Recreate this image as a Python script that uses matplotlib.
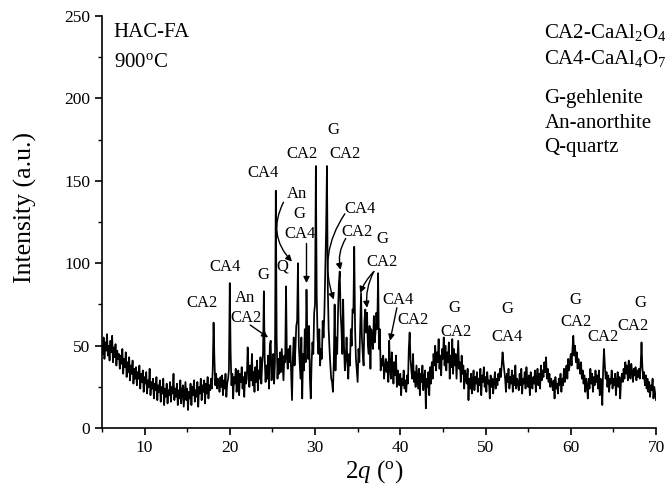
import numpy as np
import matplotlib.pyplot as plt

plt.rcParams['font.family'] = ['Liberation Serif', 'DejaVu Serif']
plt.rcParams['mathtext.fontset'] = 'custom'
plt.rcParams['mathtext.rm'] = 'Liberation Serif'
plt.rcParams['mathtext.it'] = 'Liberation Serif:italic'

# XRD pattern, 2theta from 5 to 70 in 0.1 steps
intensity = [
    50, 45, 55, 42, 52, 47, 57, 44, 50, 41,   # 5
    53, 46, 56, 40, 49, 43, 51, 38, 47, 42,   # 6
    45, 36, 44, 39, 48, 33, 42, 37, 46, 31,   # 7
    40, 34, 43, 29, 38, 33, 41, 27, 36, 30,   # 8
    37, 26, 34, 30, 38, 24, 33, 28, 35, 22,   # 9
    31, 27, 34, 21, 29, 25, 36, 20, 28, 24,   # 10
    30, 18, 27, 23, 31, 17, 26, 22, 29, 16,   # 11
    25, 21, 30, 14, 24, 19, 27, 15, 23, 20,   # 12
    28, 16, 25, 21, 33, 17, 24, 19, 27, 14,   # 13
    23, 18, 29, 15, 22, 26, 13, 21, 28, 17,   # 14
    24, 11, 22, 18, 27, 14, 25, 20, 29, 16,   # 15
    23, 19, 28, 13, 25, 21, 30, 17, 26, 22,   # 16
    29, 15, 27, 21, 31, 18, 26, 23, 30, 24,   # 17
    35, 64, 42, 26, 33, 24, 30, 27, 22, 31,   # 18
    25, 32, 20, 29, 24, 33, 19, 27, 30, 35,   # 19
    88, 46, 26, 33, 18, 31, 27, 36, 22, 30,   # 20
    35, 20, 33, 28, 37, 24, 31, 19, 34, 27,   # 21
    30, 49, 36, 25, 38, 29, 45, 26, 34, 22,   # 22
    37, 28, 41, 23, 35, 30, 43, 27, 39, 45,   # 23
    83, 42, 28, 38, 30, 44, 24, 50, 53, 29,   # 24
    36, 45, 27, 40, 144, 55, 30, 42, 33, 46,  # 25
    34, 48, 38, 29, 44, 40, 86, 43, 36, 48,   # 26
    40, 50, 33, 17, 42, 55, 38, 48, 62, 65,   # 27
    100, 50, 40, 30, 55, 18, 45, 35, 60, 40,  # 28
    84, 55, 42, 62, 30, 18, 40, 52, 45, 70,   # 29
    75, 159, 80, 55, 45, 60, 38, 48, 42, 65,  # 30
    55, 70, 95, 120, 159, 85, 60, 48, 38, 30, # 31
    28, 22, 40, 75, 35, 55, 45, 70, 88, 95,   # 32
    70, 60, 45, 78, 50, 35, 42, 55, 40, 30,   # 33
    45, 38, 60, 50, 72, 70, 110, 60, 42, 35,  # 34
    28, 48, 40, 62, 82, 55, 45, 38, 65, 72,   # 35
    58, 70, 50, 45, 62, 36, 60, 55, 48, 68,   # 36
    52, 58, 70, 60, 94, 48, 60, 35, 42, 38,   # 37
    44, 30, 37, 42, 34, 40, 28, 53, 36, 30,   # 38
    46, 38, 27, 40, 32, 44, 25, 35, 30, 26,   # 39
    33, 20, 30, 26, 35, 24, 29, 22, 32, 27,   # 40
    48, 58, 42, 35, 30, 45, 28, 34, 25, 38,   # 41
    31, 24, 36, 20, 33, 28, 38, 23, 30, 35,   # 42
    12, 30, 25, 34, 20, 37, 27, 40, 30, 45,   # 43
    38, 50, 35, 46, 40, 54, 36, 44, 32, 48,   # 44
    42, 55, 38, 50, 35, 46, 40, 52, 30, 44,   # 45
    37, 54, 33, 48, 38, 45, 30, 42, 53, 36,   # 46
    40, 28, 44, 33, 38, 24, 35, 30, 27, 36,   # 47
    17, 30, 24, 33, 21, 29, 35, 23, 31, 27,   # 48
    34, 22, 30, 26, 36, 20, 32, 28, 37, 25,   # 49
    31, 22, 34, 27, 29, 18, 32, 25, 30, 21,   # 50
    28, 34, 24, 30, 26, 33, 29, 36, 31, 38,   # 51
    46, 40, 35, 30, 22, 33, 28, 36, 24, 31,   # 52
    27, 35, 22, 32, 26, 38, 24, 30, 28, 23,   # 53
    33, 26, 36, 21, 30, 27, 34, 24, 37, 29,   # 54
    25, 32, 20, 34, 28, 24, 31, 27, 35, 22,   # 55
    30, 36, 26, 33, 24, 38, 29, 35, 31, 40,   # 56
    34, 43, 30, 36, 28, 33, 25, 30, 27, 23,   # 57
    29, 18, 31, 24, 27, 21, 30, 26, 33, 22,   # 58
    30, 26, 36, 28, 34, 38, 30, 42, 35, 40,   # 59
    45, 38, 48, 56, 44, 50, 40, 46, 36, 42,   # 60
    38, 33, 40, 30, 35, 27, 32, 22, 30, 26,   # 61
    18, 30, 24, 36, 27, 33, 22, 31, 26, 35,   # 62
    28, 32, 24, 35, 20, 30, 27, 14, 36, 48,   # 63
    38, 30, 34, 25, 32, 22, 30, 27, 35, 24,   # 64
    30, 26, 33, 20, 28, 34, 25, 31, 18, 29,   # 65
    33, 28, 36, 30, 40, 33, 38, 29, 41, 35,   # 66
    30, 39, 34, 28, 36, 32, 37, 29, 35, 31,   # 67
    36, 30, 38, 52, 37, 30, 34, 26, 32, 24,   # 68
    30, 22, 28, 19, 26, 23, 30, 18, 25, 21,   # 69
    17,                                       # 70
]
two_theta = np.round(np.arange(len(intensity)) * 0.1 + 5.0, 1)

# peak labels: (text, x, y)
labels = [
    ('CA2', 16.7, 76), ('CA4', 19.4, 98), ('G', 23.9, 93),
    ('An', 21.8, 79), ('CA2', 21.9, 67),
    ('CA4', 23.9, 155), ('CA2', 28.5, 166), ('G', 32.1, 181), ('CA2', 33.5, 166),
    ('An', 27.9, 142), ('G', 28.2, 130), ('CA4', 28.3, 118), ('Q', 26.2, 98),
    ('CA4', 35.3, 133), ('CA2', 34.9, 119), ('G', 37.9, 115), ('CA2', 37.9, 101),
    ('CA4', 39.7, 78), ('CA2', 41.5, 65.5),
    ('G', 46.3, 73), ('CA2', 46.5, 58.5),
    ('G', 52.6, 72), ('CA4', 52.5, 55),
    ('G', 60.5, 78), ('CA2', 60.6, 64.5), ('CA2', 63.8, 55),
    ('G', 68.2, 76), ('CA2', 67.3, 62),
]

# arrows: (from x, from y, to x, to y, curvature)
arrows = [
    (22.4, 62.5, 24.5, 55, 0.0),
    (26.3, 137, 27.3, 101, 0.35),
    (29.0, 112, 29.0, 88, 0.0),
    (33.5, 130, 32.2, 78, 0.25),
    (33.6, 115, 33.0, 96, 0.2),
    (36.9, 95, 35.3, 82, 0.1),
    (36.9, 95, 36.1, 73, 0.15),
    (39.6, 73, 38.8, 53, 0.0),
]

fig = plt.figure(figsize=(6.66, 4.99), dpi=100)
ax = fig.add_axes([0.153, 0.142, 0.832, 0.826])
ax.plot(two_theta, intensity, color='black', lw=1.25)

for txt, x, y in labels:
    ax.text(x, y, txt, fontsize=12, ha='center', va='center')
for x0, y0, x1, y1, rad in arrows:
    ax.annotate('', xy=(x1, y1), xytext=(x0, y0),
                arrowprops=dict(arrowstyle='-|>', color='black', lw=1.0,
                                mutation_scale=9, shrinkA=0, shrinkB=0,
                                connectionstyle='arc3,rad=%s' % rad))

ax.text(6.4, 240, 'HAC-FA', fontsize=15, va='center')
ax.text(6.4, 222, r'900$^{\mathrm{o}}$C', fontsize=15, va='center')
legend_lines = [r'CA2-CaAl$_{\mathrm{2}}$O$_{\mathrm{4}}$',
                r'CA4-CaAl$_{\mathrm{4}}$O$_{\mathrm{7}}$',
                'G-gehlenite', 'An-anorthite', 'Q-quartz']
legend_y = [240, 224.5, 200, 185, 170.5]
for t, y in zip(legend_lines, legend_y):
    ax.text(56.9, y, t, fontsize=15, va='center')

ax.set_xlim(5, 70)
ax.set_ylim(0, 250)
ax.set_xticks([10, 20, 30, 40, 50, 60, 70])
ax.set_xticks([5, 15, 25, 35, 45, 55, 65], minor=True)
ax.set_yticks([0, 50, 100, 150, 200, 250])
ax.set_yticks([25, 75, 125, 175, 225], minor=True)
ax.spines['top'].set_visible(False)
ax.spines['right'].set_visible(False)
for s in ['left', 'bottom']:
    ax.spines[s].set_linewidth(1.2)
ax.tick_params(which='major', direction='out', length=5, width=1.2, labelsize=12.5)
ax.tick_params(which='minor', direction='out', length=3, width=1.0)
ax.set_ylabel('Intensity (a.u.)', fontsize=18.5)
ax.yaxis.set_label_coords(-0.117, 0.536)
ax.set_xlabel(r'2$\mathit{q}$ ($^{\mathrm{o}}$)', fontsize=18)
ax.xaxis.set_label_coords(0.491, -0.072)

fig.savefig('out.png', dpi=100)
